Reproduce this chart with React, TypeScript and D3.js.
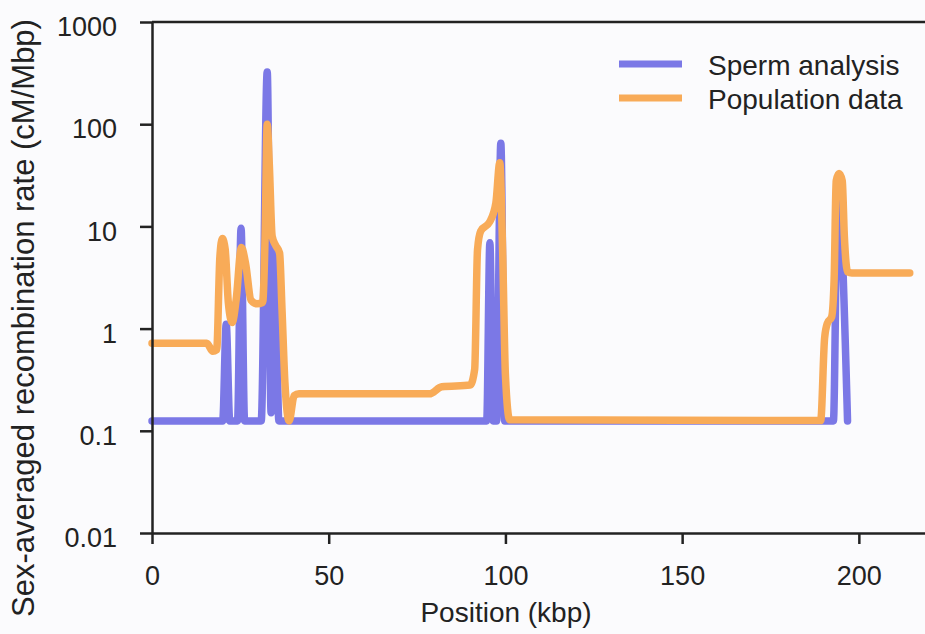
import React, { useEffect, useRef } from "react";
import * as d3 from "d3";

// positions in kbp, rates in cM/Mbp
const spermPos = [0, 20.0, 21.0, 22.0, 24.2, 25.2, 26.2, 30.9, 32.6, 33.7, 34.8, 35.9, 94.7, 95.6, 96.5, 97.5, 98.7, 99.8, 192.8, 194.0, 196.8];
const spermRate = [0.125, 0.125, 1.1, 0.125, 0.125, 9.6, 0.125, 0.125, 325, 0.15, 6, 0.125, 0.125, 6.9, 0.125, 0.125, 65, 0.125, 0.125, 25, 0.125];

const popPos = [0, 15.5, 17.2, 18.3, 19.2, 19.9, 20.7, 21.6, 22.7, 23.8, 25.3, 26.5, 28.0, 29.7, 31.3, 32.0, 32.6, 33.2, 34.0, 35.0, 36.1, 36.8, 37.6, 38.8, 40.2, 41.6, 78.5, 82.0, 90.0, 91.3, 92.1, 93.0, 95.5, 97.3, 98.4, 99.2, 100.0, 101.2, 189.2, 190.3, 191.1, 192.3, 193.0, 193.6, 194.4, 195.3, 195.9, 196.8, 198.0, 214.4];
const popRate = [0.72, 0.72, 0.6, 0.62, 5, 7.6, 6, 1.8, 1.15, 1.9, 6.2, 4.3, 1.9, 1.75, 1.8, 8, 100, 40, 8, 6.5, 5.5, 1.5, 0.3, 0.125, 0.22, 0.23, 0.23, 0.27, 0.28, 0.4, 5.9, 9, 11, 17, 42, 6, 0.35, 0.128, 0.126, 0.8, 1.13, 1.3, 3, 28, 33, 28, 8, 3.6, 3.5, 3.5];

const xTicks = [0, 50, 100, 150, 200];
const yTicks = [0.01, 0.1, 1, 10, 100, 1000];
const yTickLabels = ["0.01", "0.1", "1", "10", "100", "1000"];

const seriesNames = ["Sperm analysis", "Population data"];
const colors = { "Sperm analysis": "#7b78e6", "Population data": "#f8ab58" };

const FONT = "'Liberation Sans', Arial, Helvetica, sans-serif";
const INK = "#222";

export default function App() {
  const ref = useRef<SVGSVGElement>(null);

  useEffect(() => {
    const svg = d3.select(ref.current);
    svg.selectAll("*").remove();

    const width = 925, height = 634;
    const x = d3.scaleLinear().domain([0, 219]).range([152, 926]);
    const y = d3.scaleLog().domain([0.01, 1000]).range([533, 22]);

    svg.append("rect").attr("width", width).attr("height", height).attr("fill", "#fbfbfd");

    const line = d3.line<[number, number]>()
      .x(d => x(d[0]))
      .y(d => y(d[1]))
      .curve(d3.curveMonotoneX);

    const sperm = spermPos.map((p, i) => [p, spermRate[i]] as [number, number]);
    const pop = popPos.map((p, i) => [p, popRate[i]] as [number, number]);

    [sperm, pop].forEach((data, i) => {
      svg.append("path")
        .attr("d", line(data))
        .attr("fill", "none")
        .attr("stroke", colors[seriesNames[i]])
        .attr("stroke-width", 7.5)
        .attr("stroke-linejoin", "round")
        .attr("stroke-linecap", "round");
    });

    // axes
    const xAxis = svg.append("g")
      .attr("transform", `translate(0,${y(0.01)})`)
      .call(d3.axisBottom(x).tickValues(xTicks).tickSize(11).tickPadding(22).tickSizeOuter(0));
    const yAxis = svg.append("g")
      .attr("transform", `translate(${x(0)},0)`)
      .call(d3.axisLeft(y).tickValues(yTicks).tickFormat((d, i) => yTickLabels[i]).tickSize(12).tickPadding(23).tickSizeOuter(0));
    yAxis.selectAll("text").attr("y", 5);

    [xAxis, yAxis].forEach(g => {
      g.attr("font-family", FONT).attr("font-size", 27);
      g.select(".domain").attr("stroke", INK).attr("stroke-width", 2.5);
      g.selectAll(".tick line").attr("stroke", INK).attr("stroke-width", 2.5);
      g.selectAll("text").attr("fill", INK);
    });

    svg.append("line")
      .attr("x1", x(0)).attr("x2", 926)
      .attr("y1", y(1000)).attr("y2", y(1000))
      .attr("stroke", INK).attr("stroke-width", 2.5);

    svg.append("text")
      .attr("x", 506).attr("y", 622)
      .attr("text-anchor", "middle")
      .attr("font-family", FONT).attr("font-size", 28).attr("fill", INK)
      .text("Position (kbp)");

    svg.append("text")
      .attr("transform", "translate(34,318) rotate(-90)")
      .attr("text-anchor", "middle")
      .attr("font-family", FONT).attr("font-size", 31).attr("fill", INK)
      .text("Sex-averaged recombination rate (cM/Mbp)");

    // legend
    const legend = svg.append("g");
    seriesNames.forEach((name, i) => {
      const ly = 64 + i * 34;
      legend.append("line")
        .attr("x1", 619).attr("x2", 682).attr("y1", ly).attr("y2", ly)
        .attr("stroke", colors[name]).attr("stroke-width", 7);
      legend.append("text")
        .attr("x", 708).attr("y", ly + 11)
        .attr("font-family", FONT).attr("font-size", 28).attr("fill", INK)
        .text(name);
    });
  }, []);

  return (
    <svg ref={ref} width={925} height={634}
      style={{ position: "absolute", left: 0, top: 0, display: "block" }} />
  );
}
